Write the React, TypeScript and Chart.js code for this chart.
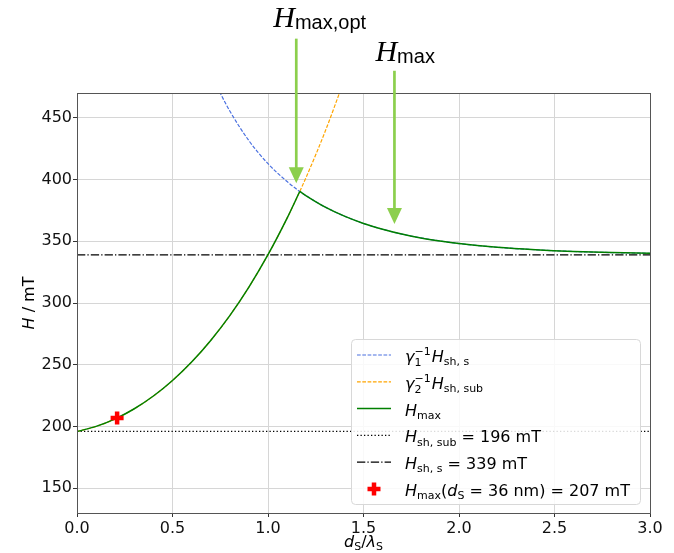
import React, { useEffect, useRef } from 'react';
import { Chart, registerables } from 'chart.js';

Chart.register(...registerables);

// ---------- data ----------
const xTicks = [0, 0.5, 1.0, 1.5, 2.0, 2.5, 3.0];
const xTickLabels = ['0.0', '0.5', '1.0', '1.5', '2.0', '2.5', '3.0'];
const yTicks = [150, 200, 250, 300, 350, 400, 450];
const yTickLabels = ['150', '200', '250', '300', '350', '400', '450'];
const xRange = [0, 3];
const yRange = [130, 470];

// gamma2^-1 H_sh,sub (orange dashed)
const subX = [0, 0.1, 0.2, 0.3, 0.4, 0.5, 0.6, 0.7, 0.8, 0.9, 1.0, 1.1, 1.2, 1.3, 1.4];
const subH = [196.0, 200.1, 206.2, 214.4, 224.7, 237.3, 252.2, 269.7, 289.8, 312.9, 339.1, 368.7, 401.9, 439.2, 480.9];

// gamma1^-1 H_sh,s (blue dashed)
const layerX = [0.7, 0.75, 0.8, 0.9, 1.0, 1.1, 1.166, 1.2, 1.3, 1.4, 1.5, 1.6, 1.7, 1.8, 1.9, 2.0, 2.2, 2.4, 2.6, 2.8, 3.0];
const layerH = [486.8, 470.0, 455.4, 431.4, 412.8, 398.3, 390.3, 386.8, 377.6, 370.3, 364.4, 359.7, 355.8, 352.7, 350.2, 348.1, 345.1, 343.1, 341.7, 340.8, 340.2];

// H_max (green) – rising branch and falling branch
const maxRiseX = [0, 0.1, 0.2, 0.3, 0.4, 0.5, 0.6, 0.7, 0.8, 0.9, 1.0, 1.1, 1.166];
const maxRiseH = [196.0, 200.1, 206.2, 214.4, 224.7, 237.3, 252.2, 269.7, 289.8, 312.9, 339.1, 368.7, 390.3];
const maxFallX = [1.166, 1.2, 1.3, 1.4, 1.5, 1.6, 1.7, 1.8, 1.9, 2.0, 2.2, 2.4, 2.6, 2.8, 3.0];
const maxFallH = [390.3, 386.8, 377.6, 370.3, 364.4, 359.7, 355.8, 352.7, 350.2, 348.1, 345.1, 343.1, 341.7, 340.8, 340.2];

const hshSub = 196;
const hshS = 339;
const markX = 0.21;
const markH = 207;

// annotation arrows (data coordinates)
const arrowX = [1.148, 1.662];
const arrowTipH = [397, 364];
const arrowTailH = [514, 488];
const arrowSub = ['max,opt', 'max'];

// ---------- styles ----------
const BLUE = '#4a70e0';
const ORANGE = '#ffa500';
const GREEN = '#008000';
const ARROW = '#8ccf4d';
const FONT = 'DejaVu Sans';

const pts = (xs: number[], ys: number[]) => xs.map((x, i) => ({ x, y: ys[i] }));

type Seg = { t?: string; f?: 'i' | 'n'; p?: 'b' | 'sub' | 'sup'; st?: [string, string] };

function drawRich(ctx: CanvasRenderingContext2D, segs: Seg[], x: number, y: number, size: number, measureOnly = false) {
  let cx = x;
  const small = Math.round(size * 0.7);
  for (const s of segs) {
    if (s.st) {
      ctx.font = `${small}px "${FONT}"`;
      const w1 = ctx.measureText(s.st[0]).width;
      const w2 = ctx.measureText(s.st[1]).width;
      if (!measureOnly) {
        ctx.fillText(s.st[0], cx, y + size * 0.24);
        ctx.fillText(s.st[1], cx, y - size * 0.42);
      }
      cx += Math.max(w1, w2) + 1;
      continue;
    }
    const isSmall = s.p === 'sub' || s.p === 'sup';
    const sz = isSmall ? small : size;
    ctx.font = `${s.f === 'i' ? 'italic ' : ''}${sz}px "${FONT}"`;
    const dy = s.p === 'sub' ? size * 0.2 : s.p === 'sup' ? -size * 0.42 : 0;
    if (!measureOnly) ctx.fillText(s.t!, cx, y + dy);
    cx += ctx.measureText(s.t!).width;
  }
  return cx - x;
}

const legendItems: { kind: string; color: string; dash: number[]; lw: number; segs: Seg[] }[] = [
  { kind: 'line', color: BLUE, dash: [3.7, 1.6], lw: 1.2, segs: [{ t: 'γ', f: 'i' }, { st: ['1', '−1'] }, { t: 'H', f: 'i' }, { t: 'sh, s', p: 'sub' }] },
  { kind: 'line', color: ORANGE, dash: [3.7, 1.6], lw: 1.2, segs: [{ t: 'γ', f: 'i' }, { st: ['2', '−1'] }, { t: 'H', f: 'i' }, { t: 'sh, sub', p: 'sub' }] },
  { kind: 'line', color: GREEN, dash: [], lw: 1.5, segs: [{ t: 'H', f: 'i' }, { t: 'max', p: 'sub' }] },
  { kind: 'line', color: '#000', dash: [1.3, 2.2], lw: 1.3, segs: [{ t: 'H', f: 'i' }, { t: 'sh, sub', p: 'sub' }, { t: ' = ' + hshSub + ' mT' }] },
  { kind: 'line', color: '#000', dash: [8.3, 2.1, 1.3, 2.1], lw: 1.3, segs: [{ t: 'H', f: 'i' }, { t: 'sh, s', p: 'sub' }, { t: ' = ' + hshS + ' mT' }] },
  { kind: 'mark', color: '#ff0000', dash: [], lw: 0, segs: [{ t: 'H', f: 'i' }, { t: 'max', p: 'sub' }, { t: '(' }, { t: 'd', f: 'i' }, { t: 'S', p: 'sub' }, { t: ' = 36 nm) = ' + markH + ' mT' }] },
];

const overlay = {
  id: 'overlay',
  afterDatasetsDraw(chart: any) {
    const { ctx, chartArea: a } = chart;
    ctx.save();
    ctx.strokeStyle = '#555';
    ctx.lineWidth = 1;
    ctx.setLineDash([]);
    ctx.strokeRect(Math.round(a.left) + 0.5, Math.round(a.top) + 0.5, Math.round(a.right - a.left), Math.round(a.bottom - a.top));
    ctx.restore();
  },
  afterDraw(chart: any) {
    const { ctx, chartArea: a, scales } = chart;
    const xs = scales.x;
    const ys = scales.y;
    ctx.save();
    ctx.textBaseline = 'alphabetic';
    ctx.textAlign = 'left';
    ctx.fillStyle = '#000';

    // axis titles
    const xt: Seg[] = [{ t: 'd', f: 'i' }, { t: 'S', p: 'sub' }, { t: '/' }, { t: 'λ', f: 'i' }, { t: 'S', p: 'sub' }];
    const wx = drawRich(ctx, xt, 0, 0, 16, true);
    drawRich(ctx, xt, (a.left + a.right) / 2 - wx / 2, a.bottom + 34, 16);

    const yt: Seg[] = [{ t: 'H', f: 'i' }, { t: ' / mT' }];
    const wy = drawRich(ctx, yt, 0, 0, 16, true);
    ctx.save();
    ctx.translate(34, (a.top + a.bottom) / 2);
    ctx.rotate(-Math.PI / 2);
    drawRich(ctx, yt, -wy / 2, 0, 16);
    ctx.restore();

    // legend
    const lw = 289, lh = 165;
    const lx = a.right - 10 - lw;
    const ly = a.bottom - 9 - lh;
    ctx.save();
    ctx.beginPath();
    (ctx as any).roundRect(lx + 0.5, ly + 0.5, lw, lh, 4);
    ctx.fillStyle = 'rgba(255,255,255,0.85)';
    ctx.fill();
    ctx.strokeStyle = '#d8d8d8';
    ctx.lineWidth = 1;
    ctx.stroke();
    ctx.restore();

    legendItems.forEach((it, i) => {
      const cy = ly + 16 + i * 26.8;
      const sx0 = lx + 6, sx1 = lx + 40;
      if (it.kind === 'line') {
        ctx.save();
        ctx.strokeStyle = it.color;
        ctx.lineWidth = it.lw;
        ctx.setLineDash(it.dash);
        ctx.beginPath();
        ctx.moveTo(sx0, cy);
        ctx.lineTo(sx1, cy);
        ctx.stroke();
        ctx.restore();
      } else {
        ctx.save();
        ctx.strokeStyle = it.color;
        ctx.lineWidth = 4.5;
        const mx = (sx0 + sx1) / 2;
        ctx.beginPath();
        ctx.moveTo(mx - 6.5, cy);
        ctx.lineTo(mx + 6.5, cy);
        ctx.moveTo(mx, cy - 6.5);
        ctx.lineTo(mx, cy + 6.5);
        ctx.stroke();
        ctx.restore();
      }
      ctx.fillStyle = '#000';
      drawRich(ctx, it.segs, lx + 54, cy + 7, 16);
    });

    // arrows with labels
    arrowX.forEach((xv, i) => {
      const px = xs.getPixelForValue(xv);
      const tip = ys.getPixelForValue(arrowTipH[i]);
      const tail = ys.getPixelForValue(arrowTailH[i]);
      const headL = 16, headW = 15;
      ctx.save();
      ctx.strokeStyle = ARROW;
      ctx.fillStyle = ARROW;
      ctx.lineWidth = 2.7;
      ctx.beginPath();
      ctx.moveTo(px, tail);
      ctx.lineTo(px, tip - headL + 1);
      ctx.stroke();
      ctx.beginPath();
      ctx.moveTo(px - headW / 2, tip - headL);
      ctx.lineTo(px + headW / 2, tip - headL);
      ctx.lineTo(px, tip);
      ctx.closePath();
      ctx.fill();
      ctx.restore();

      const tx = px + (i === 0 ? -23 : -19);
      const by = tail - (i === 0 ? 12 : 10);
      ctx.fillStyle = '#000';
      ctx.font = 'italic 30px "Liberation Serif"';
      ctx.fillText('H', tx, by);
      const hw = ctx.measureText('H').width;
      ctx.font = '20px "Liberation Sans"';
      ctx.fillText(arrowSub[i], tx + hw, by + 2.5);
    });

    ctx.restore();
  },
};

export default function App() {
  const ref = useRef<HTMLCanvasElement>(null);
  useEffect(() => {
    const tickFont = { family: FONT, size: 16 };
    const chart = new Chart(ref.current!, {
      type: 'line',
      data: {
        datasets: [
          { data: pts([xRange[0], xRange[1]], [hshSub, hshSub]), borderColor: '#000', borderWidth: 1.3, borderDash: [1.3, 2.2], pointRadius: 0, order: 4 },
          { data: pts([xRange[0], xRange[1]], [hshS, hshS]), borderColor: '#000', borderWidth: 1.3, borderDash: [8.3, 2.1, 1.3, 2.1], pointRadius: 0, order: 4 },
          { data: pts(layerX, layerH), borderColor: BLUE, borderWidth: 1.2, borderDash: [3.7, 1.6], pointRadius: 0, cubicInterpolationMode: 'monotone', order: 3 },
          { data: pts(subX, subH), borderColor: ORANGE, borderWidth: 1.2, borderDash: [3.7, 1.6], pointRadius: 0, cubicInterpolationMode: 'monotone', order: 3 },
          { data: pts(maxRiseX, maxRiseH), borderColor: GREEN, borderWidth: 1.5, pointRadius: 0, cubicInterpolationMode: 'monotone', order: 2 },
          { data: pts(maxFallX, maxFallH), borderColor: GREEN, borderWidth: 1.5, pointRadius: 0, cubicInterpolationMode: 'monotone', order: 2 },
          { data: [{ x: markX, y: markH }], showLine: false, pointStyle: 'cross', pointRadius: 6.5, pointBorderWidth: 4.5, pointBorderColor: '#ff0000', borderColor: '#ff0000', order: 1 } as any,
        ],
      },
      options: {
        animation: false,
        responsive: false,
        devicePixelRatio: 1,
        layout: { padding: { top: 93, right: 24, left: 0, bottom: 0 } },
        plugins: { legend: { display: false }, tooltip: { enabled: false } },
        events: [],
        scales: {
          x: {
            type: 'linear',
            min: xRange[0],
            max: xRange[1],
            afterBuildTicks: (s: any) => { s.ticks = xTicks.map((v) => ({ value: v })); },
            afterFit: (s: any) => { s.height = 40; s.paddingLeft = 0; s.paddingRight = 0; },
            ticks: { callback: (_v: any, i: number) => xTickLabels[i], font: tickFont, color: '#111', padding: 2, maxRotation: 0, autoSkip: false },
            grid: { color: '#d6d6d6', lineWidth: 1, tickLength: 4, tickColor: '#333', drawTicks: true },
            border: { display: false },
          },
          y: {
            type: 'linear',
            min: yRange[0],
            max: yRange[1],
            afterBuildTicks: (s: any) => { s.ticks = yTicks.map((v) => ({ value: v })); },
            afterFit: (s: any) => { s.width = 77; s.paddingTop = 0; s.paddingBottom = 0; },
            ticks: { callback: (_v: any, i: number) => yTickLabels[i], font: tickFont, color: '#111', padding: 1, autoSkip: false },
            grid: { color: '#d6d6d6', lineWidth: 1, tickLength: 4, tickColor: '#333', drawTicks: true },
            border: { display: false },
          },
        },
      } as any,
      plugins: [overlay],
    });
    return () => chart.destroy();
  }, []);
  return (
    <div style={{ position: 'fixed', left: 0, top: 0, width: 674, height: 553, background: '#fff' }}>
      <canvas ref={ref} width={674} height={553} style={{ display: 'block', width: 674, height: 553 }} />
    </div>
  );
}
